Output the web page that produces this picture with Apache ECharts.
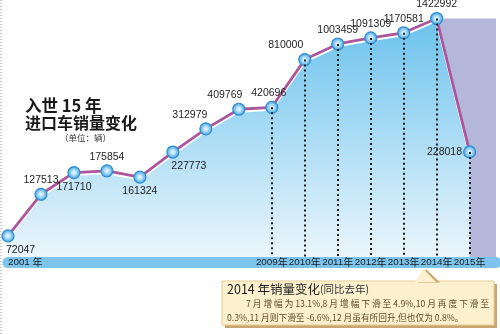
<!DOCTYPE html>
<html>
<head>
<meta charset="utf-8">
<script src="https://cdn.jsdelivr.net/npm/echarts@6/dist/echarts.min.js"></script>
<style>
  html, body { margin: 0; padding: 0; background: #fff; }
  #chart { width: 500px; height: 334px; }
</style>
</head>
<body>
<div id="chart"></div>
<script>
// Imported car sales (units), 2001-2015
const years = [2001, 2002, 2003, 2004, 2005, 2006, 2007, 2008, 2009, 2010, 2011, 2012, 2013, 2014, 2015];
const sales = [72047, 127513, 171710, 175854, 161324, 227773, 312979, 409769, 420696, 810000, 1003459, 1091309, 1170581, 1422992, 228018];
const tickLabels = ['2001 年', '', '', '', '', '', '', '', '2009年', '2010年', '2011年', '2012年', '2013年', '2014年', '2015年'];
const dropLineYears = [2009, 2010, 2011, 2012, 2013, 2014, 2015];
const highlightYear = 2014;

// Axis extents
const xMin = 2001, xMax = 2015.8;
const yMin = 50000, yMax = 1600000;

// Where each value label sits relative to its point
const labelPlacement = [
  { position: 'bottom', align: 'left', offset: [-2, 0] },
  { position: 'top' },
  { position: 'bottom' },
  { position: 'top' },
  { position: 'bottom' },
  { position: 'bottom', offset: [16, 0] },
  { position: 'top', offset: [-16, 0] },
  { position: 'top', offset: [-14, 0] },
  { position: 'top', offset: [-3, 0] },
  { position: 'top', offset: [-19, 0] },
  { position: 'top' },
  { position: 'top' },
  { position: 'top' },
  { position: 'top' },
  { position: 'left', distance: 1 }
];

const points = years.map((y, i) => [y, sales[i]]);
const hlIndex = years.indexOf(highlightYear);

const chart = echarts.init(document.getElementById('chart'), null, { renderer: 'canvas' });

const numFont = '"Liberation Sans", Arial, sans-serif';
const cjkFont = '"Noto Sans CJK SC", "Liberation Sans", sans-serif';

chart.setOption({
  animation: false,
  backgroundColor: '#ffffff',
  grid: { left: 8, right: 4, top: 10, bottom: 71.5, containLabel: false },
  xAxis: {
    type: 'value',
    min: xMin,
    max: xMax,
    interval: 1,
    z: 10,
    axisLine: { show: true, lineStyle: { color: '#7cc4ec', width: 11 } },
    axisTick: { show: false },
    splitLine: { show: false },
    axisLabel: {
      margin: -5,
      alignMinLabel: 'left',
      showMaxLabel: false,
      formatter: function (v) {
        const i = years.indexOf(Math.round(v * 100) / 100);
        if (i < 0 || !tickLabels[i]) return '';
        const m = tickLabels[i].match(/^(\d+)(\s*)(.*)$/);
        return '{d|' + m[1] + m[2] + '}{y|' + m[3] + '}';
      },
      rich: {
        d: { fontSize: 9.8, fontFamily: numFont, color: '#1a1a1a' },
        y: { fontSize: 10, fontFamily: cjkFont, color: '#1a1a1a' }
      }
    }
  },
  yAxis: {
    type: 'log',
    logBase: 10,
    min: yMin,
    max: yMax,
    show: false,
    splitLine: { show: false }
  },
  series: [
    {
      // lavender panel behind the latest year
      type: 'line',
      z: 0,
      data: points,
      showSymbol: false,
      lineStyle: { opacity: 0 },
      silent: true,
      markArea: {
        silent: true,
        itemStyle: { color: '#b4b6da' },
        data: [[
          { coord: [highlightYear, sales[hlIndex]] },
          { coord: [xMax, yMin] }
        ]]
      }
    },
    {
      // gradient area under the curve
      type: 'line',
      z: 1,
      data: points,
      showSymbol: false,
      lineStyle: { width: 0, opacity: 0 },
      areaStyle: {
        opacity: 1,
        color: new echarts.graphic.LinearGradient(0, 0, 0, 1, [
          { offset: 0, color: '#6cc2ec' },
          { offset: 0.45, color: '#a6daf4' },
          { offset: 1, color: '#eef7fc' }
        ])
      },
      silent: true
    },
    {
      // dotted drop lines to the axis
      type: 'line',
      z: 2,
      data: points,
      showSymbol: false,
      lineStyle: { opacity: 0 },
      silent: true,
      markLine: {
        silent: true,
        symbol: 'none',
        label: { show: false },
        lineStyle: { color: '#1e1e1e', type: [2, 3], width: 2 },
        data: dropLineYears.map(y => [
          { coord: [y, sales[years.indexOf(y)]] },
          { coord: [y, yMin] }
        ])
      }
    },
    {
      type: 'line',
      z: 3,
      data: points.map((p, i) => ({
        value: p,
        label: Object.assign({}, labelPlacement[i])
      })),
      symbol: 'circle',
      symbolSize: 12,
      lineStyle: {
        color: '#ac579d',
        width: 2.8,
        shadowColor: '#ffffff',
        shadowOffsetY: 2,
        shadowBlur: 0
      },
      itemStyle: {
        color: new echarts.graphic.RadialGradient(0.5, 0.5, 0.5, [
          { offset: 0, color: '#f4fbff' },
          { offset: 0.35, color: '#b6e2f8' },
          { offset: 1, color: '#3a9ad8' }
        ]),
        borderColor: '#2d8fd0',
        borderWidth: 1.2
      },
      label: {
        show: true,
        distance: 2,
        color: '#1e1e1e',
        fontSize: 10.5,
        fontFamily: numFont,
        formatter: p => String(p.value[1])
      }
    }
  ],
  graphic: [
    {
      type: 'line',
      shape: { x1: 1, y1: 0, x2: 1, y2: 334 },
      style: { stroke: '#9a9a9a', lineWidth: 1, lineDash: [1, 2] },
      silent: true
    },
    {
      type: 'text',
      left: 25, top: 97,
      style: { text: '入世 15 年', fontSize: 16.5, fontWeight: 'bold', fill: '#1a1a1a', fontFamily: cjkFont }
    },
    {
      type: 'text',
      left: 25, top: 115,
      style: { text: '进口车销量变化', fontSize: 16, fontWeight: 'bold', fill: '#1a1a1a', fontFamily: cjkFont }
    },
    {
      type: 'text',
      left: 60, top: 134,
      style: { text: '（单位：辆）', fontSize: 8.5, fill: '#333', fontFamily: cjkFont }
    },
    // 2014 note box
    {
      type: 'rect',
      shape: { x: 225, y: 284, width: 272, height: 44 },
      style: { fill: '#c9a66d' },
      silent: true
    },
    {
      type: 'rect',
      shape: { x: 222, y: 281, width: 272, height: 44 },
      style: { fill: '#fdf0cf', stroke: '#e6cb95', lineWidth: 1 },
      silent: true
    },
    {
      type: 'polygon',
      shape: { points: [[418, 282.5], [426, 269], [440, 282.5]] },
      style: { fill: '#c9a66d' },
      silent: true
    },
    {
      type: 'polygon',
      shape: { points: [[415, 282], [423, 268.5], [436, 282]] },
      style: { fill: '#fdf0cf' },
      silent: true
    },
    {
      type: 'text',
      left: 227, top: 283,
      style: {
        text: '{a|2014 年销量变化}{b|(同比去年)}',
        fontFamily: cjkFont,
        rich: {
          a: { fontSize: 12.5, fill: '#1e1e1e', fontFamily: cjkFont },
          b: { fontSize: 10.5, fill: '#333', fontFamily: cjkFont }
        }
      }
    },
    {
      type: 'text',
      left: 246, top: 299,
      style: { text: '7 月 增 幅 为 13.1%,8 月 增 幅 下 滑 至 4.9%,10 月 再 度 下 滑 至', fontSize: 8.7, fill: '#5e4b2c', fontFamily: cjkFont }
    },
    {
      type: 'text',
      left: 227, top: 313,
      style: { text: '0.3%,11 月则下滑至 -6.6%,12 月虽有所回升,但也仅为 0.8%。', fontSize: 8.7, fill: '#5e4b2c', fontFamily: cjkFont }
    }
  ]
});
</script>
</body>
</html>
